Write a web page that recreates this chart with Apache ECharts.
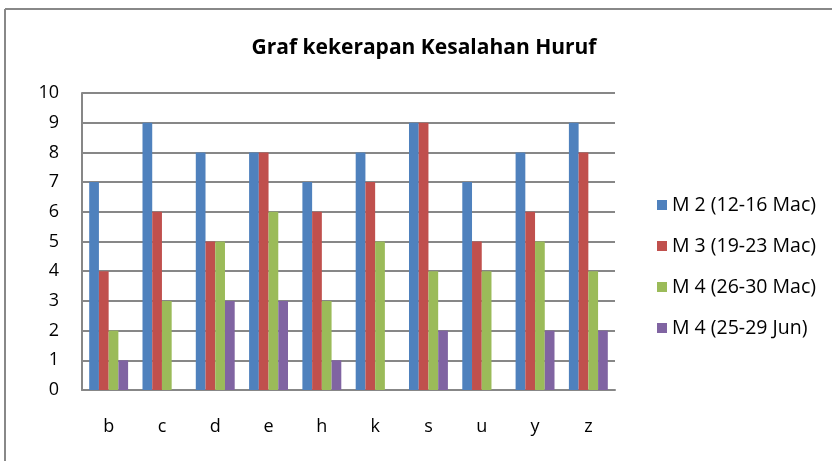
<!DOCTYPE html>
<html>
<head>
<meta charset="utf-8">
<script src="https://cdn.jsdelivr.net/npm/echarts@6/dist/echarts.min.js"></script>
<style>
html,body{margin:0;padding:0;background:#fff;}
#chart{width:832px;height:461px;}
</style>
</head>
<body>
<div id="chart"></div>
<script>
const categories = ['b','c','d','e','h','k','s','u','y','z'];
const seriesNames = ['M 2 (12-16 Mac)','M 3 (19-23 Mac)','M 4 (26-30 Mac)','M 4 (25-29 Jun)'];
const m2Mac = [7,9,8,8,7,8,9,7,8,9];
const m3Mac = [4,6,5,8,6,7,9,5,6,8];
const m4Mac = [2,3,5,6,3,5,4,4,5,4];
const m4Jun = [1,0,3,3,1,0,2,0,2,2];
const yTicks = [0,1,2,3,4,5,6,7,8,9,10];
const colors = ['#4F81BD','#C0504D','#9BBB59','#8064A2'];
const values = [m2Mac, m3Mac, m4Mac, m4Jun];

const font = '"Open Sans", sans-serif';
const chart = echarts.init(document.getElementById('chart'));
chart.setOption({
  animation: false,
  backgroundColor: '#fff',
  color: colors,
  title: {
    text: 'Graf kekerapan Kesalahan Huruf',
    left: 419, top: 33, textAlign: 'center',
    textStyle: {fontFamily: font, fontWeight: 'bold', fontSize: 21, color: '#000'}
  },
  legend: {
    orient: 'vertical', left: 652, top: 190,
    itemWidth: 10, itemHeight: 10, itemGap: 21,
    icon: 'rect',
    textStyle: {fontFamily: font, fontSize: 19.5, color: '#000'},
    data: seriesNames
  },
  grid: {left: 82, right: 217, top: 93, bottom: 71, containLabel: false},
  xAxis: {
    type: 'category', data: categories,
    axisLine: {lineStyle: {color: '#878787', width: 2}},
    axisTick: {show: false},
    axisLabel: {margin: 28, fontFamily: font, fontSize: 18, color: '#000'}
  },
  yAxis: {
    type: 'value', min: yTicks[0], max: yTicks[yTicks.length-1], interval: 1,
    axisLine: {show: true, lineStyle: {color: '#878787', width: 2}},
    axisTick: {show: false},
    splitLine: {lineStyle: {color: '#878787', width: 2}},
    axisLabel: {margin: 23, fontFamily: font, fontSize: 18, color: '#000'}
  },
  series: seriesNames.map((n, i) => ({
    name: n, type: 'bar', data: values[i],
    barGap: '0%', barCategoryGap: '27%',
    itemStyle: {color: colors[i]}
  })),
  graphic: [
    {type: 'line', shape: {x1: 5, y1: 9, x2: 832, y2: 9}, style: {stroke: '#888', lineWidth: 2}},
    {type: 'line', shape: {x1: 5, y1: 9, x2: 5, y2: 461}, style: {stroke: '#888', lineWidth: 2}}
  ]
});
</script>
</body>
</html>
